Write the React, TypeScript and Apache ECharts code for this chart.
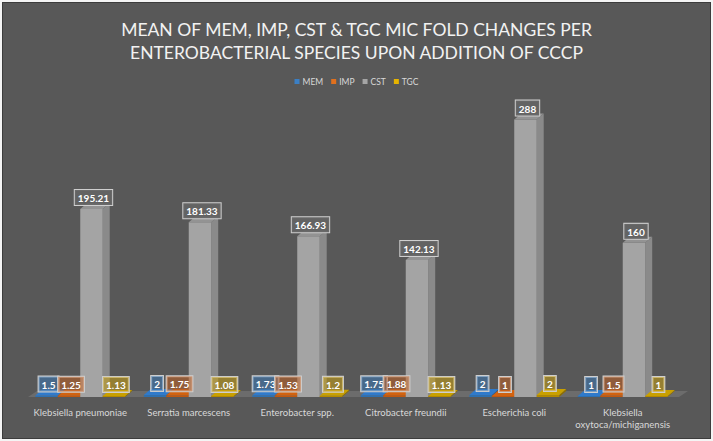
import React, { useEffect, useRef } from "react";
import * as echarts from "echarts";

const categories = [
  "Klebsiella pneumoniae",
  "Serratia marcescens",
  "Enterobacter spp.",
  "Citrobacter freundii",
  "Escherichia coli",
  "Klebsiella\noxytoca/michiganensis",
];
const seriesNames = ["MEM", "IMP", "CST", "TGC"];
const memValues = [1.5, 2, 1.73, 1.75, 2, 1];
const impValues = [1.25, 1.75, 1.53, 1.88, 1, 1.5];
const cstValues = [195.21, 181.33, 166.93, 142.13, 288, 160];
const tgcValues = [1.13, 1.08, 1.2, 1.13, 2, 1];
const titleLines = [
  "MEAN OF MEM, IMP, CST & TGC MIC FOLD CHANGES PER",
  "ENTEROBACTERIAL SPECIES UPON ADDITION OF CCCP",
];

const FONT = "Lato, 'Open Sans', sans-serif";

const styles = [
  { legend: "#3b7fc4", front: "#2e70b0", side: "#245a8f", top: "#2f7acb", label: "rgba(60,120,180,0.55)" },
  { legend: "#e0701e", front: "#c0580f", side: "#9a460c", top: "#d2620f", label: "rgba(200,95,30,0.5)" },
  { legend: "#a5a5a5", front: "#a4a4a4", side: "#8a8a8a", top: "#939393", label: "rgba(100,100,100,0.95)" },
  { legend: "#e6b400", front: "#b38a00", side: "#8f6f00", top: "#c9a000", label: "rgba(200,160,20,0.55)" },
];

const DX = 7;
const DY = -6;

function makeRender(idx: number) {
  return (params: any, api: any) => {
    const ci = api.value(0);
    const v = api.value(1);
    const base = api.coord([ci, 0]);
    const topPt = api.coord([ci, v]);
    const band = api.size([1, 0])[0];
    const bw = band * 0.207;
    const x0 = base[0] - 2 * bw + idx * bw;
    const x1 = x0 + bw;
    const by = base[1];
    const ty = Math.min(topPt[1], by - 1);
    const st = styles[idx];
    return {
      type: "group",
      children: [
        {
          type: "polygon",
          shape: { points: [[x1, ty], [x1 + DX, ty + DY], [x1 + DX, by + DY], [x1, by]] },
          style: { fill: st.side },
        },
        {
          type: "rect",
          shape: { x: x0, y: ty, width: bw, height: by - ty },
          style: { fill: st.front },
        },
        {
          type: "polygon",
          shape: { points: [[x0, ty], [x0 + DX, ty + DY], [x1 + DX, ty + DY], [x1, ty]] },
          style: { fill: st.top },
        },
        {
          type: "text",
          x: x0 + bw / 2 + 2,
          y: ty - 4,
          style: {
            text: String(v),
            fill: "#ffffff",
            font: `bold 10px ${FONT}`,
            align: "center",
            verticalAlign: "bottom",
            backgroundColor: st.label,
            borderColor: "#cfcfcf",
            borderWidth: 1,
            padding: [3, 3, 2, 3],
          },
          z2: 10,
        },
      ],
    };
  };
}

export default function App() {
  const ref = useRef<HTMLDivElement>(null);
  useEffect(() => {
    document.body.style.margin = "0";
    const chart = echarts.init(ref.current!, undefined, { renderer: "svg" });
    const values = [memValues, impValues, cstValues, tgcValues];
    chart.setOption({
      animation: false,
      backgroundColor: "transparent",
      title: {
        text: titleLines.join("\n"),
        left: "center",
        top: 13,
        textStyle: {
          color: "#f2f2f2",
          fontSize: 17.5,
          fontWeight: "normal",
          fontFamily: FONT,
          lineHeight: 23,
        },
      },
      legend: {
        top: 72,
        left: "center",
        icon: "rect",
        itemWidth: 5,
        itemHeight: 5,
        itemGap: 8,
        data: seriesNames,
        textStyle: { color: "#d9d9d9", fontSize: 8.5, fontFamily: FONT, padding: [0, 0, 0, -2] },
      },
      grid: { left: 26, right: 36, top: 108, bottom: 44 },
      xAxis: {
        type: "category",
        data: categories,
        axisLine: { show: false },
        axisTick: { show: false },
        axisLabel: {
          color: "#d9d9d9",
          fontSize: 9.5,
          fontFamily: FONT,
          margin: 9,
          lineHeight: 12,
          interval: 0,
        },
      },
      yAxis: { type: "value", min: 0, max: 300, show: false },
      series: [
        {
          type: "custom",
          name: "floor",
          silent: true,
          z: 1,
          data: [[0, 0]],
          renderItem: (params: any, api: any) => {
            const cs = params.coordSys;
            const by = cs.y + cs.height;
            return {
              type: "polygon",
              shape: {
                points: [
                  [cs.x + 2, by],
                  [cs.x + 2 + DX + 2, by + DY],
                  [cs.x + cs.width + DX + 4, by + DY],
                  [cs.x + cs.width + 2, by],
                ],
              },
              style: { fill: "#6c6c6c" },
            };
          },
        },
        ...seriesNames.map((name, i) => ({
          type: "custom",
          name,
          z: 2,
          itemStyle: { color: styles[i].legend },
          data: values[i].map((v, ci) => [ci, v]),
          encode: { x: 0, y: 1 },
          renderItem: makeRender(i),
        })),
      ],
    });
    return () => chart.dispose();
  }, []);
  return (
    <div style={{ position: "relative", width: 713, height: 441, background: "#f4f4f4" }}>
      <div
        style={{
          position: "absolute",
          left: 2,
          top: 2,
          width: 707,
          height: 435,
          background: "#585858",
          border: "1px solid #3c3c3c",
        }}
      />
      <div ref={ref} style={{ position: "absolute", left: 0, top: 0, width: 713, height: 441 }} />
    </div>
  );
}
